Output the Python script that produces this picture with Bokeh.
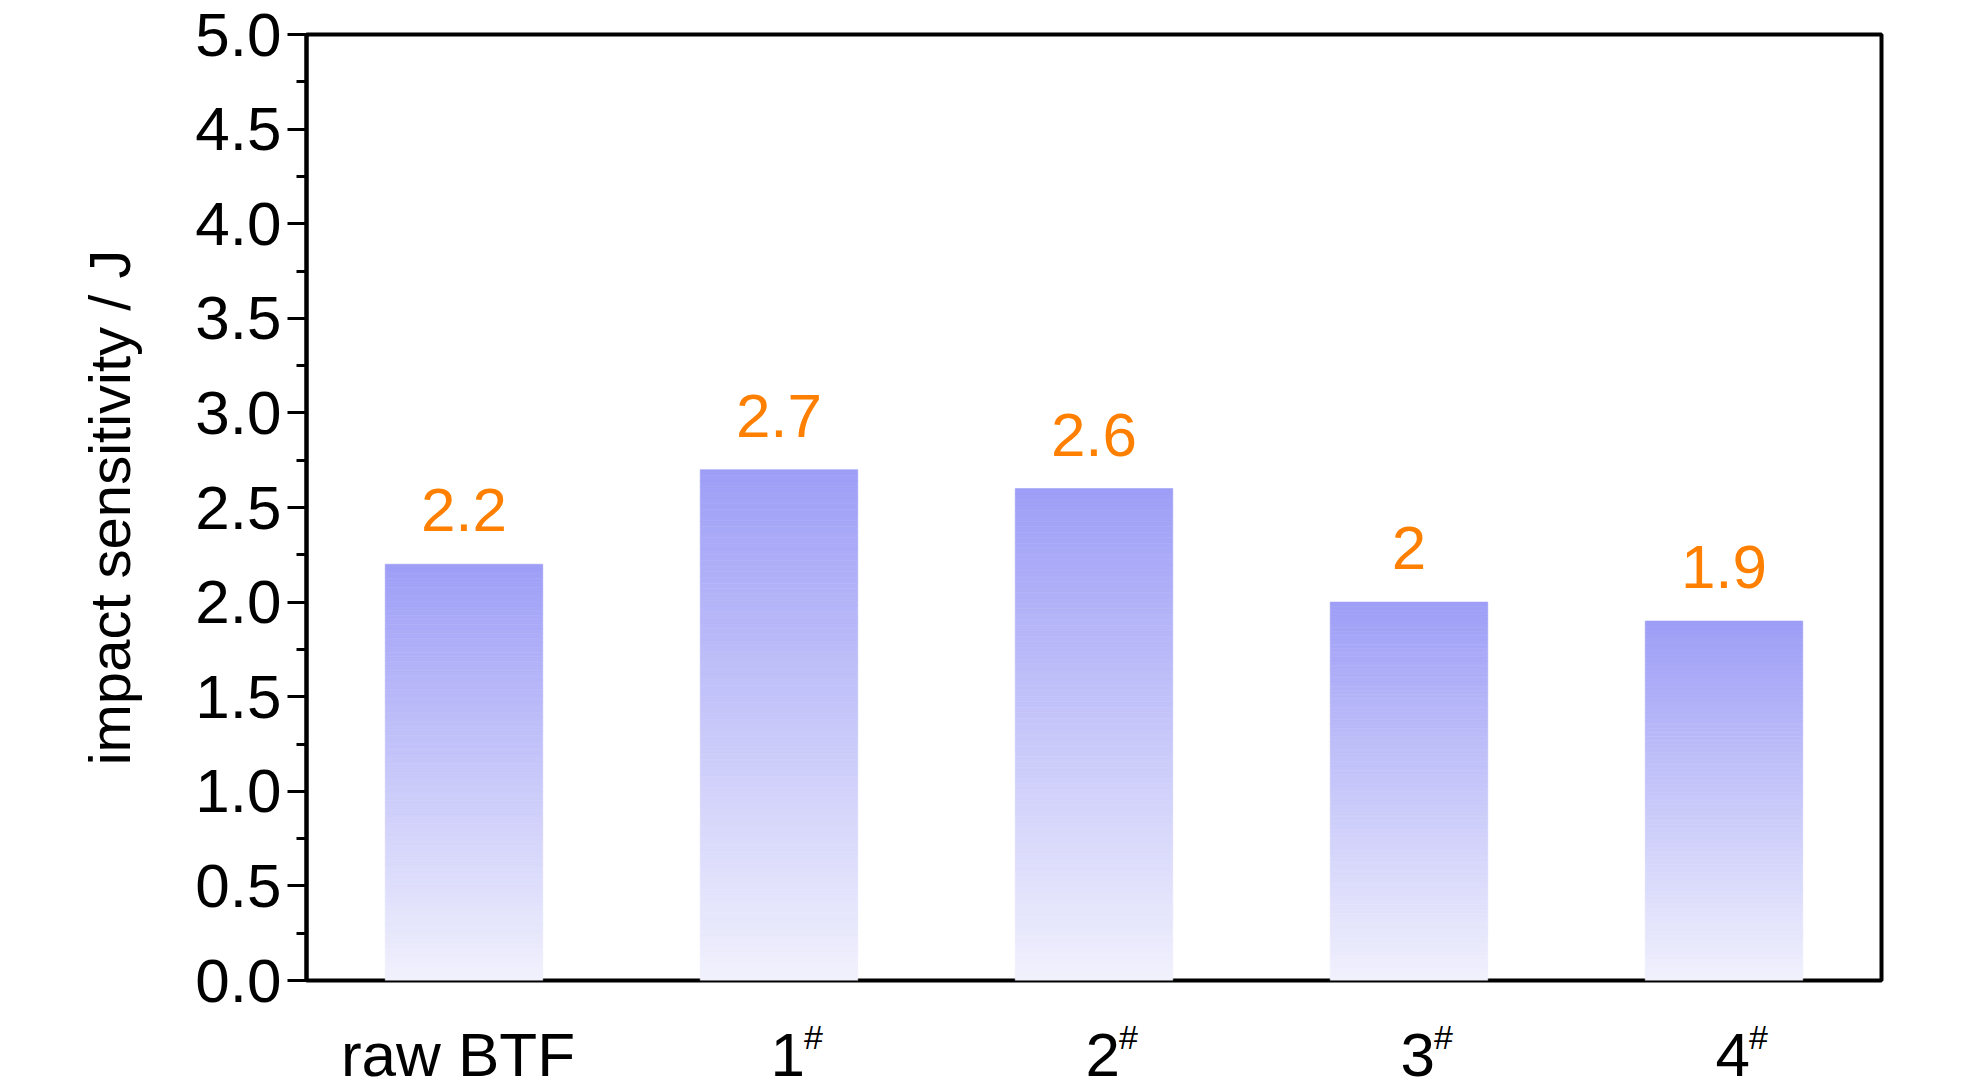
import numpy as np
from bokeh.plotting import figure
from bokeh.layouts import column
from bokeh.models import Range1d, FixedTicker, LabelSet, ColumnDataSource, PrintfTickFormatter
from bokeh.core.properties import value
from bokeh.embed import file_html
from bokeh.resources import INLINE

categories = ["raw BTF", "1", "2", "3", "4"]
superscripts = ["", "#", "#", "#", "#"]
values = [2.2, 2.7, 2.6, 2.0, 1.9]
y_ticks = [0.0, 0.5, 1.0, 1.5, 2.0, 2.5, 3.0, 3.5, 4.0, 4.5, 5.0]
y_minor = [0.25 * i for i in range(21)]

FONT = "Liberation Sans"
top_rgb = np.array([158, 158, 247])
bot_rgb = np.array([241, 241, 253])

FW, FH = 1575, 946
BL, BR, BT, BB = 306, 60, 34, 40
STRIP_H = 60

p = figure(output_backend="svg", toolbar_location=None,
           frame_width=FW, frame_height=FH,
           min_border_left=BL, min_border_right=BR,
           min_border_top=BT, min_border_bottom=BB,
           x_range=Range1d(0, len(categories)), y_range=Range1d(0, 5))
p.title.visible = False
p.background_fill_color = "white"
p.border_fill_color = "white"
p.outline_line_color = "black"
p.outline_line_width = 4
p.grid.visible = False
p.xaxis.visible = False

xs = np.arange(len(categories)) + 0.5
N = 90
left, right, bottom, top, colors = [], [], [], [], []
for x, v in zip(xs, values):
    for k in range(N):
        f = (k + 0.5) / N
        c = bot_rgb + (top_rgb - bot_rgb) * f
        left.append(x - 0.25); right.append(x + 0.25)
        bottom.append(v * k / N); top.append(v * (k + 1) / N)
        colors.append("#%02x%02x%02x" % tuple(int(round(t)) for t in c))
p.quad(left=left, right=right, bottom=bottom, top=top,
       fill_color=colors, line_color=colors, line_width=0.6)

src = ColumnDataSource(dict(x=xs, y=values, t=["%g" % v for v in values]))
p.add_layout(LabelSet(x="x", y="y", text="t", source=src, y_offset=33,
                      text_align="center", text_baseline="alphabetic",
                      text_color="#ff8000", text_font=value(FONT),
                      text_font_size=value("62px")))

yax = p.yaxis[0]
yax.ticker = FixedTicker(ticks=y_ticks, minor_ticks=y_minor)
yax.formatter = PrintfTickFormatter(format="%.1f")
yax.axis_line_width = 4
yax.major_tick_line_width = 3
yax.minor_tick_line_width = 3
yax.major_tick_out = 19
yax.major_tick_in = 0
yax.minor_tick_out = 10
yax.minor_tick_in = 0
yax.major_label_text_font = FONT
yax.major_label_text_font_size = "62px"
yax.major_label_text_color = "black"
yax.major_label_standoff = 6
yax.axis_label = "impact sensitivity / J"
yax.axis_label_text_font = FONT
yax.axis_label_text_font_size = "58px"
yax.axis_label_text_font_style = "normal"
yax.axis_label_text_color = "black"
yax.axis_label_standoff = 50

# strip below the plot holding the category labels (with superscripts)
s = figure(output_backend="svg", toolbar_location=None,
           frame_width=FW, frame_height=STRIP_H,
           min_border_left=BL, min_border_right=BR,
           min_border_top=0, min_border_bottom=0,
           x_range=p.x_range, y_range=Range1d(STRIP_H, 0))
s.title.visible = False
s.axis.visible = False
s.grid.visible = False
s.outline_line_color = None
s.background_fill_color = "white"
s.border_fill_color = "white"

BASE_OFF = 34   # vertical offset of category labels below strip top
SUP_OFF = 16    # vertical offset of superscripts
main_align = ["right" if sup else "center" for sup in superscripts]
main_off = [26 if sup else -6 for sup in superscripts]
for al in ("right", "center"):
    idx = [i for i, a in enumerate(main_align) if a == al]
    s.text(x=[xs[i] for i in idx], y=[0] * len(idx),
           text=[categories[i] for i in idx], x_offset=[main_off[i] for i in idx],
           y_offset=BASE_OFF,
           text_align=al, text_baseline="alphabetic",
           text_font=value(FONT), text_font_size=value("62px"), text_color="black")
idx = [i for i, sup in enumerate(superscripts) if sup]
s.text(x=[xs[i] for i in idx], y=[0] * len(idx), text=[superscripts[i] for i in idx],
       x_offset=25, y_offset=SUP_OFF, text_align="left", text_baseline="alphabetic",
       text_font=value(FONT), text_font_size=value("34px"), text_color="black")

layout = column(p, s, spacing=0)
open("out.html", "w").write(file_html(layout, INLINE))
